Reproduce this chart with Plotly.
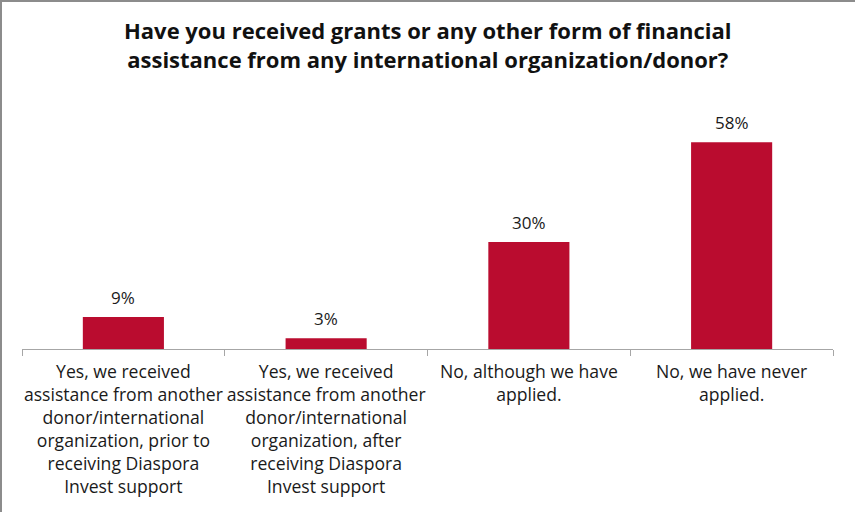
import plotly.graph_objects as go

# Survey responses: grants / financial assistance from international donors
categories = [
    "Yes, we received<br>assistance from another<br>donor/international<br>organization, prior to<br>receiving Diaspora<br>Invest support",
    "Yes, we received<br>assistance from another<br>donor/international<br>organization, after<br>receiving Diaspora<br>Invest support",
    "No, although we have<br>applied.",
    "No, we have never<br>applied.",
]
shares = [9, 3, 30, 58]
value_labels = [f"{v}%" for v in shares]
title_text = ("<b>Have you received grants or any other form of financial<br>"
              "assistance from any international organization/donor?</b>")

BAR_COLOR = "#BA0C2F"
FONT = "Open Sans"
W, H = 855, 512
M_L, M_R, M_T, M_B = 22, 22, 135, 163
PLOT_W = W - M_L - M_R
PLOT_H = H - M_T - M_B


def px_to_paper_y(py):
    """Convert a pixel row (from top of page) to paper y."""
    return (H - M_B - py) / PLOT_H


def px_to_paper_x(px):
    return (px - M_L) / PLOT_W


fig = go.Figure(
    go.Bar(
        x=categories,
        y=shares,
        marker=dict(color=BAR_COLOR, line=dict(width=0)),
        width=0.4,
        hoverinfo="skip",
    )
)

# value labels just above each bar
for cat, val, lab in zip(categories, shares, value_labels):
    fig.add_annotation(
        x=cat, y=val, text=lab, showarrow=False,
        yanchor="bottom", yshift=6,
        font=dict(family=FONT, size=17, color="#1a1a1a"),
    )

# chart heading
fig.add_annotation(
    text=title_text, showarrow=False,
    xref="paper", yref="paper", x=0.5, y=px_to_paper_y(44),
    xanchor="center", yanchor="middle",
    font=dict(family=FONT, size=22, color="#111111"),
)

fig.update_layout(
    width=W,
    height=H,
    margin=dict(l=M_L, r=M_R, t=M_T, b=M_B, autoexpand=False),
    paper_bgcolor="white",
    plot_bgcolor="white",
    showlegend=False,
    xaxis=dict(
        showline=True, linecolor="#A6A6A6", linewidth=1,
        ticks="outside", tickson="boundaries", ticklen=6,
        tickcolor="#A6A6A6", tickwidth=1,
        tickfont=dict(family=FONT, size=17.6, color="#1a1a1a"),
        tickangle=0, automargin=False,
        showgrid=False, zeroline=False,
        ticklabelstandoff=7,
    ),
    yaxis=dict(
        range=[0, 60], visible=False, showgrid=False, zeroline=False,
    ),
    shapes=[
        # thin frame along the top and left edges of the chart
        dict(type="line", xref="paper", yref="paper",
             x0=px_to_paper_x(0), x1=px_to_paper_x(W),
             y0=px_to_paper_y(1), y1=px_to_paper_y(1),
             line=dict(color="#8C8C8C", width=2)),
        dict(type="line", xref="paper", yref="paper",
             x0=px_to_paper_x(1), x1=px_to_paper_x(1),
             y0=px_to_paper_y(H), y1=px_to_paper_y(0),
             line=dict(color="#8C8C8C", width=2)),
    ],
)

fig.write_html("out.html")
